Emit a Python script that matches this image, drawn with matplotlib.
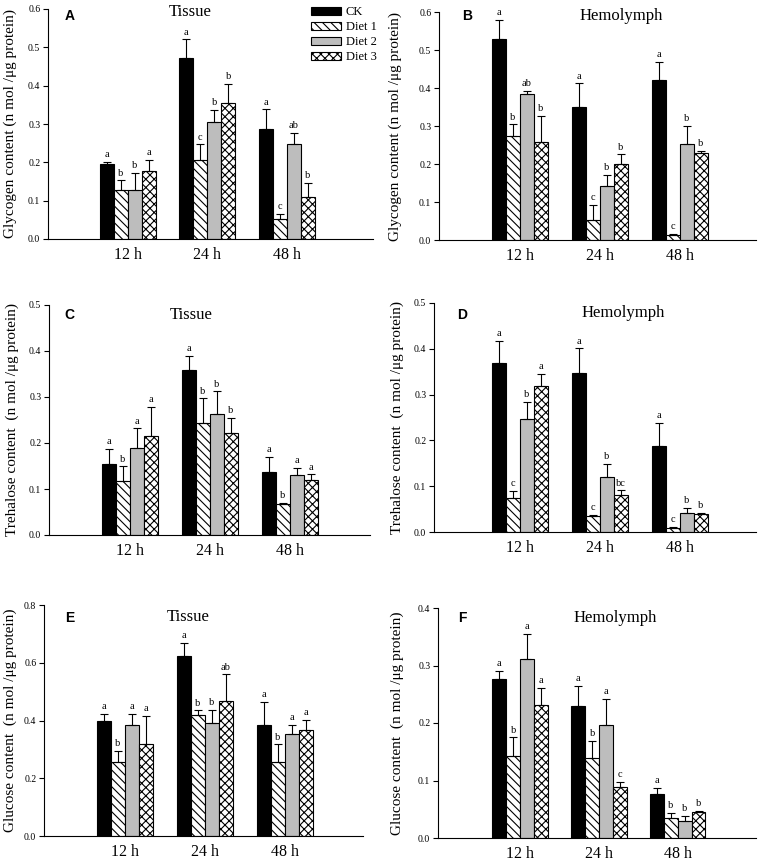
import numpy as np
import matplotlib
matplotlib.use("Agg")
import matplotlib.pyplot as plt

plt.rcParams['hatch.linewidth'] = 0.8
plt.rcParams['font.family'] = ['Liberation Serif', 'DejaVu Serif']

# ---------------- data ----------------
times = ["12 h", "24 h", "48 h"]
groups = ["CK", "Diet 1", "Diet 2", "Diet 3"]

# Glycogen, tissue (A)
glyc_tis_mean = [[0.195, 0.473, 0.287], [0.127, 0.207, 0.053], [0.127, 0.306, 0.248], [0.178, 0.354, 0.110]]
glyc_tis_err = [[0.006, 0.048, 0.051], [0.026, 0.040, 0.013], [0.046, 0.030, 0.029], [0.029, 0.051, 0.036]]
glyc_tis_let = [["a", "a", "a"], ["b", "c", "c"], ["b", "b", "ab"], ["a", "b", "b"]]

# Glycogen, hemolymph (B)
glyc_hem_mean = [[0.529, 0.349, 0.422], [0.273, 0.053, 0.013], [0.383, 0.141, 0.253], [0.257, 0.199, 0.230]]
glyc_hem_err = [[0.051, 0.063, 0.046], [0.031, 0.039, 0.003], [0.010, 0.031, 0.047], [0.070, 0.026, 0.005]]
glyc_hem_let = [["a", "a", "a"], ["b", "c", "c"], ["ab", "b", "b"], ["b", "b", "b"]]

# Trehalose, tissue (C)
treh_tis_mean = [[0.154, 0.359, 0.136], [0.118, 0.244, 0.067], [0.190, 0.262, 0.130], [0.215, 0.222, 0.119]]
treh_tis_err = [[0.034, 0.030, 0.034], [0.031, 0.053, 0.003], [0.042, 0.050, 0.016], [0.064, 0.032, 0.013]]
treh_tis_let = [["a", "a", "a"], ["b", "b", "b"], ["a", "b", "a"], ["a", "b", "a"]]

# Trehalose, hemolymph (D)
treh_hem_mean = [[0.368, 0.348, 0.187], [0.074, 0.035, 0.009], [0.246, 0.120, 0.041], [0.319, 0.081, 0.039]]
treh_hem_err = [[0.049, 0.053, 0.051], [0.016, 0.002, 0.003], [0.038, 0.029, 0.011], [0.026, 0.010, 0.002]]
treh_hem_let = [["a", "a", "a"], ["c", "c", "c"], ["b", "b", "b"], ["a", "bc", "b"]]

# Glucose, tissue (E)
gluc_tis_mean = [[0.399, 0.624, 0.385], [0.255, 0.418, 0.258], [0.383, 0.393, 0.353], [0.318, 0.467, 0.368]]
gluc_tis_err = [[0.024, 0.045, 0.079], [0.039, 0.017, 0.059], [0.041, 0.045, 0.033], [0.099, 0.093, 0.035]]
gluc_tis_let = [["a", "a", "a"], ["b", "b", "b"], ["a", "b", "a"], ["a", "ab", "a"]]

# Glucose, hemolymph (F)
gluc_hem_mean = [[0.276, 0.230, 0.077], [0.142, 0.139, 0.035], [0.312, 0.196, 0.029], [0.231, 0.088, 0.045]]
gluc_hem_err = [[0.014, 0.034, 0.010], [0.033, 0.030, 0.008], [0.043, 0.046, 0.010], [0.030, 0.009, 0.002]]
gluc_hem_let = [["a", "a", "a"], ["b", "b", "b"], ["a", "a", "b"], ["a", "c", "b"]]

# ---------------- styling ----------------
facecolors = ["black", "white", "#bdbdbd", "white"]
hatches = [None, "\\\\\\\\", None, "xxxx"]

W, H = 763, 863
fig = plt.figure(figsize=(W / 100, H / 100), dpi=100)

panels = [
    # pixel box, xlim, ymax, ystep, ylabel, title, title_x(data), title_y(px), letter, letter xy(px), ylabel centre offset px, data
    ((48, 9, 373, 239), (0.0, 4.08), 0.6, 0.1, "Glycogen content (n mol /\u03bcg protein)", "Tissue", 1.78, 12, "A", (70, 16), 38,
     glyc_tis_mean, glyc_tis_err, glyc_tis_let),
    ((439, 12, 756, 240), (-0.01, 3.95), 0.6, 0.1, "Glycogen content (n mol /\u03bcg protein)", "Hemolymph", 2.26, 16, "B", (467, 16), 44,
     glyc_hem_mean, glyc_hem_err, glyc_hem_let),
    ((49, 305, 370, 535), (-0.01, 4.0), 0.5, 0.1, "Trehalose content  (n mol /\u03bcg protein)", "Tissue", 1.76, 315, "C", (69, 315), 37,
     treh_tis_mean, treh_tis_err, treh_tis_let),
    ((434, 303, 756, 532), (-0.075, 3.95), 0.5, 0.1, "Trehalose content  (n mol /\u03bcg protein)", "Hemolymph", 2.29, 313, "D", (462, 315), 37,
     treh_hem_mean, treh_hem_err, treh_hem_let),
    ((44, 605, 363, 836), (-0.01, 3.98), 0.8, 0.2, "Glucose content  (n mol /\u03bcg protein)", "Tissue", 1.79, 617, "E", (70, 618), 34,
     gluc_tis_mean, gluc_tis_err, gluc_tis_let),
    ((438, 608, 756, 838), (-0.04, 3.99), 0.4, 0.1, "Glucose content  (n mol /\u03bcg protein)", "Hemolymph", 2.21, 618, "F", (462, 618), 41,
     gluc_hem_mean, gluc_hem_err, gluc_hem_let),
]

bw = 0.175
xg = np.arange(1, len(times) + 1)

for idx, (box, xlim, ymax, ystep, ylabel, title, tx, ty, letter, lxy, yloff, means, errs, lets) in enumerate(panels):
    x0, y0, x1, y1 = box
    w, h = x1 - x0, y1 - y0
    ax = fig.add_axes([x0 / W, 1 - y1 / H, w / W, h / H])
    for i in range(len(groups)):
        xs = xg + (i - 1.5) * bw
        m = np.array(means[i])
        e = np.array(errs[i])
        ax.bar(xs, m, width=bw, color=facecolors[i], edgecolor="black", linewidth=0.8,
               hatch=hatches[i], label=groups[i], zorder=2)
        ax.errorbar(xs, m, yerr=[np.zeros_like(e), e], fmt="none", ecolor="black",
                    elinewidth=0.8, capsize=3, capthick=0.8, zorder=3)
        for xx, mm, ee, lt in zip(xs, m, e, lets[i]):
            ax.annotate(lt, (xx, mm + ee), xytext=(0, 2), textcoords="offset points",
                        ha="center", va="bottom", fontsize=7.5)
    ax.set_xlim(*xlim)
    ax.set_ylim(0, ymax)
    yt = np.arange(0, ymax + 1e-9, ystep)
    ax.set_yticks(yt)
    ax.set_yticklabels([f"{v:.1f}" for v in yt], fontsize=7)
    ax.set_xticks(xg)
    ax.set_xticklabels(times, fontsize=11.5)
    ax.tick_params(axis="x", length=0, pad=6)
    ax.tick_params(axis="y", length=3.5, width=0.8, direction="out", pad=2)
    for s in ["top", "right"]:
        ax.spines[s].set_visible(False)
    for s in ["left", "bottom"]:
        ax.spines[s].set_linewidth(0.8)
    ax.set_ylabel(ylabel, fontsize=11)
    ax.yaxis.set_label_coords(-(yloff - 7) / w, 0.5)
    ax.text(tx, 1 - (ty - y0) / h, title, transform=ax.get_xaxis_transform(),
            ha="center", va="center", fontsize=12)
    lx, ly = lxy
    ax.text((lx - x0) / w, 1 - (ly - y0) / h, letter, transform=ax.transAxes,
            ha="center", va="center", fontsize=10, fontweight="bold", family="Liberation Sans")
    if idx == 0:
        ax.legend(loc="upper left", bbox_to_anchor=((311 - x0) / w, 1 - (6 - y0) / h),
                  frameon=False, fontsize=9, handlelength=2.4, handleheight=0.6,
                  labelspacing=0.25, handletextpad=0.4, borderpad=0, borderaxespad=0)

fig.savefig("out.png", dpi=100)
